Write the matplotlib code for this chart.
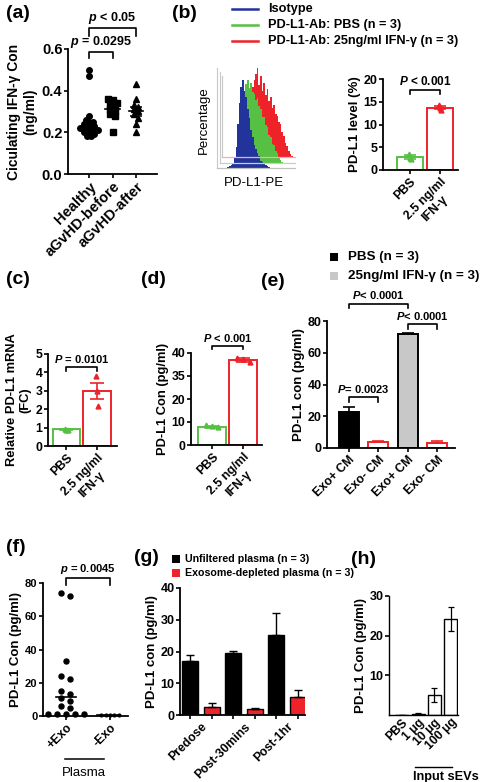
import numpy as np
import matplotlib
matplotlib.use("Agg")
import matplotlib.pyplot as plt
from matplotlib.patches import Rectangle

# ---------------- data ----------------
a_groups = ['Healthy', 'aGvHD-before', 'aGvHD-after']
a_healthy = [0.50, 0.47, 0.28, 0.26, 0.25, 0.25, 0.24, 0.24, 0.23, 0.23, 0.22,
             0.22, 0.22, 0.21, 0.21, 0.21, 0.20, 0.20, 0.19, 0.19, 0.18, 0.18]
a_before = [0.36, 0.355, 0.34, 0.33, 0.32, 0.31, 0.30, 0.29, 0.28, 0.20]
a_after = [0.43, 0.36, 0.33, 0.32, 0.31, 0.30, 0.29, 0.27, 0.24, 0.20]
a_means = [0.235, 0.31, 0.30]
a_sems = [0.013, 0.016, 0.02]

b_legend = ['Isotype', 'PD-L1-Ab: PBS (n = 3)', 'PD-L1-Ab: 25ng/ml IFN-\u03b3 (n = 3)']
hist_iso_start = 14
hist_iso = [0, 1, 2, 3, 5, 9, 20, 42, 62, 78, 84, 74, 68, 57, 48, 36, 30, 22, 18,
            14, 11, 7, 6, 4, 3, 2, 1, 0]
hist_pbs_start = 22
hist_pbs = [0, 2, 4, 8, 14, 24, 40, 62, 76, 79, 72, 77, 68, 66, 60, 62, 54, 52, 44,
            44, 36, 34, 27, 25, 18, 17, 11, 9, 5, 3, 1, 0]
hist_ifn_start = 34
hist_ifn = [0, 3, 8, 18, 35, 55, 68, 74, 80, 86, 70, 78, 64, 72, 60, 66, 54, 58, 48,
            50, 42, 40, 34, 32, 24, 21, 14, 11, 6, 3, 1, 0]

b_cats = ['PBS', '2.5 ng/ml\nIFN-\u03b3']
b_means = [2.9, 13.7]
b_sems = [0.5, 0.4]
b_pts = [[3.6, 2.6, 2.4], [14.2, 13.7, 13.1]]

c_means = [0.9, 3.0]
c_sems = [0.05, 0.45]
c_pts = [[0.95, 0.88, 0.85], [3.8, 3.0, 2.2]]

d_means = [8.0, 38.5]
d_sems = [0.4, 0.4]
d_pts = [[8.6, 8.1, 7.7], [39.0, 38.6, 38.1]]
d_ticks = [0, 10, 20, 35, 40]

e_legend = ['PBS (n = 3)', '25ng/ml IFN-\u03b3 (n = 3)']
e_cats = ['Exo+ CM', 'Exo- CM', 'Exo+ CM', 'Exo- CM']
e_vals = [22.5, 3.5, 71.5, 3.0]
e_errs = [3.5, 0.8, 1.0, 1.2]

f_cats = ['+Exo', '-Exo']
f_plus = [74, 72, 33, 24, 22, 15, 13, 11, 9, 6, 5, 1.2, 1.2, 1.2, 1.2, 1.2]
f_minus = [0.5, 0.5, 0.5, 0.5, 0.5]
f_lines = [11.5, 0.5]

g_legend = ['Unfiltered plasma (n = 3)', 'Exosome-depleted plasma (n = 3)']
g_cats = ['Predose', 'Post-30mins', 'Post-1hr']
g_unf = [17.0, 19.5, 25.3]
g_unf_err = [2.0, 0.7, 6.8]
g_dep = [2.4, 1.9, 5.6]
g_dep_err = [1.4, 0.3, 2.2]

h_cats = ['PBS', '1 \u03bcg', '10 \u03bcg', '100 \u03bcg']
h_vals = [0.1, 0.3, 5.0, 24.3]
h_errs = [0.0, 0.1, 1.7, 3.0]

# ---------------- style ----------------
W, H = 480, 782
plt.rcParams['font.family'] = ['Liberation Sans', 'DejaVu Sans']
plt.rcParams['font.weight'] = 'bold'
plt.rcParams['axes.labelweight'] = 'bold'
plt.rcParams['mathtext.fontset'] = 'custom'
plt.rcParams['mathtext.rm'] = 'Liberation Sans:bold'
plt.rcParams['mathtext.it'] = 'Liberation Sans:italic:bold'
plt.rcParams['mathtext.bf'] = 'Liberation Sans:bold'
plt.rcParams['mathtext.bfit'] = 'Liberation Sans:italic:bold'
plt.rcParams['axes.linewidth'] = 1.3

BLUE = '#23339c'
GREEN = '#55c043'
RED = '#ee2229'
GRAY = '#c8c8c8'

fig = plt.figure(figsize=(W / 100, H / 100), dpi=100)
ov = fig.add_axes([0, 0, 1, 1])
ov.set_xlim(0, W)
ov.set_ylim(H, 0)
ov.axis('off')


def px_axes(x0, y0, x1, y1):
    return fig.add_axes([x0 / W, 1 - y1 / H, (x1 - x0) / W, (y1 - y0) / H])


def style(ax, fs=8):
    for s in ['top', 'right']:
        ax.spines[s].set_visible(False)
    ax.tick_params(labelsize=fs, width=1.2, length=3, pad=1)
    ax.patch.set_alpha(0)


def xlabels(ax, ticks, labels, fs=8):
    ax.set_xticks(ticks)
    ax.set_xticklabels(labels, rotation=45, ha='right', rotation_mode='anchor',
                       fontsize=fs, fontweight='bold', multialignment='center')


def bracket(ax, x1, x2, y, h, text, fs=7.5):
    ax.plot([x1, x1, x2, x2], [y - h, y, y, y - h], color='k', lw=1.2, clip_on=False)
    ax.annotate(text, xy=((x1 + x2) / 2, y), xytext=(0, 1.5), textcoords='offset points',
                ha='center', va='bottom', fontsize=fs, fontweight='bold', annotation_clip=False)


def swarm(vals, tol, step):
    v = np.sort(np.asarray(vals, float))[::-1]
    rows = []
    for val in v:
        if rows and rows[-1][0] - val < tol:
            rows[-1].append(val)
        else:
            rows.append([val])
    xs, ys = [], []
    for r in rows:
        n = len(r)
        for i, val in enumerate(r):
            xs.append((i - (n - 1) / 2) * step)
            ys.append(val)
    return np.array(xs), np.array(ys)


def panel_label(x, y, s):
    ov.text(x, y, s, fontsize=14, fontweight='bold', ha='center', va='center')


# ---------------- (a) ----------------
panel_label(18, 13, '(a)')
ax = px_axes(68, 49, 157, 174)
style(ax, 10.5)
markers = ['o', 's', '^']
for i, data in enumerate([a_healthy, a_before, a_after]):
    xs, ys = swarm(data, 0.016 if i == 0 else 0.02, 0.15 if i == 0 else 0.2)
    ax.plot(i + xs, ys, markers[i], color='k', ms=4, clip_on=False)
    ax.plot([i - 0.3, i + 0.3], [a_means[i]] * 2, color='k', lw=1.2)
    ax.errorbar(i, a_means[i], yerr=a_sems[i], color='k', capsize=4, lw=1.1, capthick=1.1)
ax.set_xlim(-0.9, 2.9)
ax.set_ylim(0, 0.6)
ax.set_yticks([0, 0.2, 0.4, 0.6])
ax.set_yticklabels(['0.0', '0.2', '0.4', '0.6'], fontweight='bold')
xlabels(ax, [0, 1, 2], a_groups, 10.5)
ax.set_ylabel('Ciculating IFN-\u03b3 Con\n(ng/ml)', fontsize=10, labelpad=3)
bracket(ax, 0, 1, 0.585, 0.03, r'$\bfit{p}$ = 0.0295', 9)
bracket(ax, 0, 2, 0.70, 0.04, r'$\bfit{p}$ < 0.05', 9)

# ---------------- (b) ----------------
panel_label(184, 13, '(b)')
for i, (lab, col) in enumerate(zip(b_legend, [BLUE, GREEN, RED])):
    yy = 9 + 16 * i
    ov.plot([232, 258], [yy, yy], color=col, lw=1.8)
    ov.text(268, yy, lab, fontsize=9.2, fontweight='bold', va='center', ha='left')

axh = px_axes(215, 68, 297, 172)
axh.set_xlim(0, 100)
axh.set_ylim(0, 100)
axh.axis('off')
layers = [(hist_ifn_start, hist_ifn, 14, RED, '#f0b0b0', 9, 92),
          (hist_pbs_start, hist_pbs, 9, GREEN, '#b8dcb0', 6, 96),
          (hist_iso_start, hist_iso, 4, BLUE, '#c0c0c0', 3, 100)]
for start, heights, base, col, lcol, lx, top in layers:
    axh.plot([lx, lx], [base, top], color='#c8c8c8', lw=0.8)
    axh.plot([lx, 97], [base, base], color=lcol, lw=0.9)
    xs = start + 2 * np.arange(len(heights))
    axh.fill_between(xs, base, base + np.asarray(heights), color=col, lw=0, step='mid')
ov.text(204, 120, 'Percentage', rotation=90, fontsize=9.5, fontweight='normal',
        ha='center', va='center')
ov.text(254, 183, 'PD-L1-PE', fontsize=9.5, fontweight='normal', ha='center', va='center')

ax = px_axes(383, 79, 458, 170)
style(ax, 9)
for i, col in enumerate([GREEN, RED]):
    ax.bar(i, b_means[i], width=0.85, facecolor='white', edgecolor=col, lw=1.4)
    ax.errorbar(i, b_means[i], yerr=b_sems[i], color=col, capsize=4, lw=1.2, capthick=1.2)
    ax.plot([i - 0.04, i, i + 0.04], b_pts[i], '^', color=col, ms=3.5)
ax.set_xlim(-0.9, 1.6)
ax.set_ylim(0, 20)
ax.set_yticks([0, 5, 10, 15, 20])
ax.set_yticklabels(['0', '5', '10', '15', '20'], fontweight='bold')
xlabels(ax, [0, 1], b_cats, 8.8)
ax.set_ylabel('PD-L1 level (%)', fontsize=9.5, labelpad=2)
bracket(ax, 0, 1, 17.5, 0.8, r'$\bfit{P}$ < 0.001', 8.5)

# ---------------- (c) ----------------
panel_label(18, 280, '(c)')
ax = px_axes(48, 354, 117, 446)
style(ax, 8.8)
for i, col in enumerate([GREEN, RED]):
    ax.bar(i, c_means[i], width=0.9, facecolor='white', edgecolor=col, lw=1.4)
    ax.errorbar(i, c_means[i], yerr=c_sems[i], color=col, capsize=5, lw=1.2, capthick=1.2)
    ax.plot([i - 0.04, i, i + 0.04], c_pts[i], '^', color=col, ms=3.5)
ax.set_xlim(-0.6, 1.65)
ax.set_ylim(0, 5)
ax.set_yticks([0, 1, 2, 3, 4, 5])
ax.set_yticklabels(['0', '1', '2', '3', '4', '5'], fontweight='bold')
xlabels(ax, [0, 1], b_cats, 8.8)
ax.set_ylabel('Relative PD-L1 mRNA\n(FC)', fontsize=9.3, labelpad=3)
bracket(ax, 0, 1, 4.3, 0.2, r'$\bfit{P}$ = 0.0101', 8)

# ---------------- (d) ----------------
panel_label(153, 280, '(d)')
ax = px_axes(191, 353, 262, 445)
seg_v = [0, 10, 20, 35, 40, 45]
seg_p = [0, 1, 2, 3, 4, 5]
ax.set_yscale('function', functions=(lambda v: np.interp(v, seg_v, seg_p),
                                     lambda p: np.interp(p, seg_p, seg_v)))
style(ax, 8.8)
for i, col in enumerate([GREEN, RED]):
    ax.bar(i, d_means[i], width=0.9, facecolor='white', edgecolor=col, lw=1.4)
    ax.errorbar(i, d_means[i], yerr=d_sems[i], color=col, capsize=5, lw=1.2, capthick=1.2)
    ax.plot([i - 0.2, i, i + 0.2], d_pts[i], '^', color=col, ms=3.5)
ax.set_xlim(-0.68, 1.6)
ax.set_ylim(0, 40)
ax.set_yticks(d_ticks)
ax.set_yticklabels([str(t) for t in d_ticks], fontweight='bold')
xlabels(ax, [0, 1], b_cats, 8.8)
ax.set_ylabel('PD-L1 Con (pg/ml)', fontsize=9.3, labelpad=2)
bracket(ax, 0, 1, 41.5, 0.7, r'$\bfit{P}$ < 0.001', 8)

# ---------------- (e) ----------------
panel_label(273, 281, '(e)')
for i, (lab, col) in enumerate(zip(e_legend, ['k', GRAY])):
    yy = 257 + 19 * i
    ov.add_patch(Rectangle((330, yy - 4), 8, 8, facecolor=col, edgecolor='none'))
    ov.text(348, yy, lab, fontsize=9.6, fontweight='bold', va='center', ha='left')
ax = px_axes(327, 321, 455, 448)
style(ax, 9)
faces = ['k', 'white', GRAY, 'white']
edges = ['k', RED, 'k', RED]
for i in range(4):
    ax.bar(i, e_vals[i], width=0.68, facecolor=faces[i], edgecolor=edges[i], lw=1.4)
    ax.errorbar(i, e_vals[i], yerr=[[0], [e_errs[i]]], color=edges[i], capsize=4, lw=1.2,
                capthick=1.2)
ax.set_xlim(-0.75, 3.6)
ax.set_ylim(0, 80)
ax.set_yticks([0, 20, 40, 60, 80])
ax.set_yticklabels(['0', '20', '40', '60', '80'], fontweight='bold')
xlabels(ax, [0, 1, 2, 3], e_cats, 8.8)
ax.set_ylabel('PD-L1 con (pg/ml)', fontsize=9.5, labelpad=2)
bracket(ax, 0, 1, 32, 3, r'$\bfit{P}$= 0.0023', 8)
bracket(ax, 0, 2, 91, 3, r'$\bfit{P}$< 0.0001', 8)
bracket(ax, 2, 3, 78, 3, r'$\bfit{P}$< 0.0001', 8)

# ---------------- (f) ----------------
panel_label(16, 548, '(f)')
ax = px_axes(43, 583, 128, 716)
style(ax, 8)
for i, data in enumerate([f_plus, f_minus]):
    xs, ys = swarm(data, 2.5, 0.2 if i == 0 else 0.1)
    ax.plot(i + xs, ys, 'o', color='k', ms=3.6 if i == 0 else 2, clip_on=False)
    ax.plot([i - 0.22, i + 0.22] if i == 0 else [i - 0.3, i + 0.2], [f_lines[i]] * 2,
            color='k', lw=1.2)
ax.set_xlim(-0.52, 1.41)
ax.set_ylim(0, 80)
ax.set_yticks([0, 20, 40, 60, 80])
ax.set_yticklabels(['0', '20', '40', '60', '80'], fontweight='bold')
xlabels(ax, [0, 1], f_cats, 8.8)
ax.set_ylabel('PD-L1 Con (pg/ml)', fontsize=9.5, labelpad=2)
bracket(ax, 0, 1, 83, 4, r'$\bfit{p}$ = 0.0045', 8)
ov.plot([65, 104], [759, 759], color='k', lw=1.1)
ov.text(84, 773, 'Plasma', fontsize=9.5, fontweight='normal', ha='center', va='center')

# ---------------- (g) ----------------
panel_label(146, 557, '(g)')
for i, (lab, col) in enumerate(zip(g_legend, ['k', RED])):
    yy = 559 + 14 * i
    ov.add_patch(Rectangle((172, yy - 4), 8, 8, facecolor=col, edgecolor='none'))
    ov.text(185, yy, lab, fontsize=7.7, fontweight='bold', va='center', ha='left')
ax = px_axes(180, 588, 305, 715)
style(ax, 9)
gx = np.arange(len(g_cats))
ax.bar(gx - 0.25, g_unf, width=0.37, color='k', edgecolor='k', lw=1)
ax.errorbar(gx - 0.25, g_unf, yerr=[np.zeros(3), g_unf_err], fmt='none', ecolor='k',
            capsize=3, lw=1, capthick=1)
ax.bar(gx + 0.25, g_dep, width=0.37, color=RED, edgecolor='k', lw=1)
ax.errorbar(gx + 0.25, g_dep, yerr=[np.zeros(3), g_dep_err], fmt='none', ecolor='k',
            capsize=3, lw=1, capthick=1)
ax.set_xlim(-0.49, 2.42)
ax.set_ylim(0, 40)
ax.set_yticks([0, 10, 20, 30, 40])
ax.set_yticklabels(['0', '10', '20', '30', '40'], fontweight='bold')
ax.set_xticks(np.concatenate([gx - 0.25, gx + 0.25]))
ax.set_xticklabels([])
ax.set_xticks(gx, minor=True)
ax.set_xticklabels(g_cats, minor=True, rotation=45, ha='right', rotation_mode='anchor',
                   fontsize=8.8, fontweight='bold')
ax.tick_params(axis='x', which='minor', length=0, pad=4)
ax.set_ylabel('PD-L1 con (pg/ml)', fontsize=9.5, labelpad=2)

# ---------------- (h) ----------------
panel_label(364, 560, '(h)')
ax = px_axes(389, 596, 458, 715)
style(ax, 9)
hx = np.arange(len(h_cats))
ax.bar(hx, h_vals, width=0.8, facecolor='white', edgecolor='k', lw=1)
ax.errorbar(hx, h_vals, yerr=h_errs, fmt='none', ecolor='k', capsize=2.5, lw=0.9,
            capthick=0.9)
ax.set_xlim(-0.8, 3.45)
ax.set_ylim(0, 30)
ax.set_yticks([10, 20, 30])
ax.set_yticklabels(['10', '20', '30'], fontweight='bold')
ax.spines['bottom'].set_linewidth(1.0)
ax.spines['left'].set_linewidth(1.0)
xlabels(ax, hx, h_cats, 8.8)
ax.tick_params(axis='x', length=0)
ax.set_ylabel('PD-L1 Con (pg/ml)', fontsize=9.5, labelpad=2)
ov.plot([415, 452], [767, 767], color='k', lw=1.0)
ov.text(446, 777, 'Input sEVs', fontsize=9.2, fontweight='bold', ha='center', va='center')

fig.savefig('out.png', dpi=100)
